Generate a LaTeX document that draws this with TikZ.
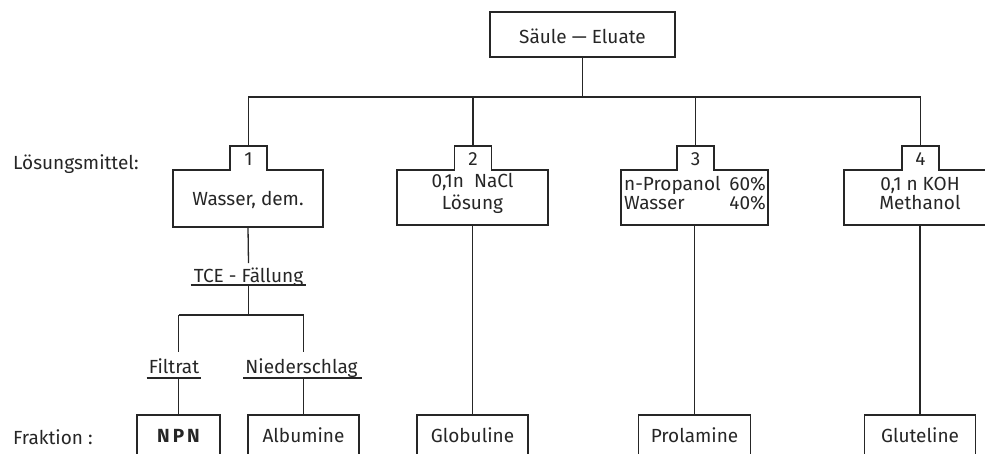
\documentclass[tikz,border=0pt]{standalone}
\usepackage{fontspec}
\setmainfont{Fira Sans}
\usetikzlibrary{calc}
\begin{document}
\begin{tikzpicture}[x=1pt,y=-1pt,
  ln/.style={line width=1.3pt, draw=black!85},
  txt/.style={font=\fontsize{19}{22}\selectfont, text=black!85, inner sep=0pt},
  frame/.style={draw=none, inner sep=0pt, outer sep=0pt},
  tabbox/.style={frame, minimum width=37pt, minimum height=24pt},
  fbox/.style={ln, inner sep=0pt, outer sep=0pt, minimum height=45pt,
    text height=14pt, text depth=4pt, font=\fontsize{19}{22}\selectfont, text=black!85},
]
\useasboundingbox (0,0) rectangle (985,453);
\clip (0,0) rectangle (985,453);

% top box
\node[ln, minimum width=185pt, minimum height=45pt, inner sep=0pt, outer sep=0pt] (top) at (582.5,34.5) {};
\node[txt, anchor=base] (toptxt) at (582.5,43) {Säule — Eluate};

% side labels
\node[txt, anchor=base west] (lm) at (13,169) {Lösungsmittel:};
\node[txt, anchor=base west] (fr) at (13,444) {Fraktion :};

% solvent boxes
\node[frame, minimum width=150pt, minimum height=57pt] (b1) at (248,198.5) {};
\node[tabbox] (t1) at (248.5,158) {};
\node[frame, minimum width=151pt, minimum height=55pt] (b2) at (472.5,197.5) {};
\node[tabbox] (t2) at (473,158) {};
\node[frame, minimum width=147pt, minimum height=55pt] (b3) at (694.5,197.5) {};
\node[tabbox] (t3) at (695.5,158) {};
\node[frame, minimum width=152pt, minimum height=55pt] (b4) at (920,197.5) {};
\node[tabbox] (t4) at (920.5,158) {};

\foreach \b/\t in {b1/t1,b2/t2,b3/t3,b4/t4}{
  \draw[ln] (\b.north west) -- (\t.south west) -- (\t.north west) -- (\t.north east)
    -- (\t.south east) -- (\b.north east) -- (\b.south east) -- (\b.south west) -- cycle;
}

% tab numbers
\node[txt, anchor=base] (n1) at (248.5,165) {1};
\node[txt, anchor=base] (n2) at (473,165) {2};
\node[txt, anchor=base] (n3) at (695.5,165) {3};
\node[txt, anchor=base] (n4) at (920.5,165) {4};

% box texts
\node[txt, anchor=base] (b1t) at (248,205) {Wasser, dem.};
\node[txt, anchor=base] (b2t1) at (472.5,187) {0,1n\ \ NaCl};
\node[txt, anchor=base] (b2t2) at (472.5,209) {Lösung};
\node[txt, anchor=base west] (b3t1) at (624,190) {n-Propanol};
\node[txt, anchor=base east] (b3p1) at (766,190) {60\%};
\node[txt, anchor=base west] (b3t2) at (624,209) {Wasser};
\node[txt, anchor=base east] (b3p2) at (766,209) {40\%};
\node[txt, anchor=base] (b4t1) at (920,190) {0,1 n KOH};
\node[txt, anchor=base] (b4t2) at (920,209) {Methanol};

% bus
\coordinate (j) at (582.5,97);
\draw[ln] (top.south) -- (j);
\draw[ln] (t1.north) -- (t1.north |- j) -- (t4.north |- j) -- (t4.north);
\draw[ln] (t2.north) -- (t2.north |- j);
\draw[ln] (t3.north) -- (t3.north |- j);

% fraction boxes
\node[fbox, minimum width=83pt] (npn) at (178.5,437.5) {\bfseries N\hspace{3pt}P\hspace{3pt}N};
\node[fbox, minimum width=111pt] (alb) at (303.5,437.5) {Albumine};
\node[fbox, minimum width=111pt] (glob) at (472.5,437.5) {Globuline};
\node[fbox, minimum width=112pt] (prol) at (694.5,437.5) {Prolamine};
\node[fbox, minimum width=111pt] (glut) at (920,437.5) {Gluteline};

% TCE branch
\node[txt, anchor=base] (tce) at (248.5,282) {TCE - Fällung};
\draw[ln] ($(tce.base west)+(-3,3)$) -- ($(tce.base east)+(3,3)$);
\draw[ln] (b1.south) -- ($(tce.north)+(0,-4)$);
\coordinate (sp) at (248.5,315);
\draw[ln] ($(tce.base)+(0,3)$) -- (sp);
\draw[ln] (sp -| npn.north) -- (sp -| alb.north);

\node[txt, anchor=base] (fil) at (174,373) {Filtrat};
\node[txt, anchor=base] (nie) at (301.5,373) {Niederschlag};
\draw[ln] ($(fil.base west)+(-2,5)$) -- ($(fil.base east)+(2,5)$);
\draw[ln] ($(nie.base west)+(-2,5)$) -- ($(nie.base east)+(4,5)$);
\draw[ln] (sp -| npn.north) -- (npn.north |- 0,352);
\draw[ln] (sp -| alb.north) -- (alb.north |- 0,352);
\draw[ln] (npn.north |- 0,378) -- (npn.north);
\draw[ln] (alb.north |- 0,378) -- (alb.north);

% long stems
\draw[ln] (b2.south) -- (b2.south |- glob.north);
\draw[ln] (b3.south) -- (b3.south |- prol.north);
\draw[ln] (b4.south) -- (b4.south |- glut.north);
\end{tikzpicture}
\end{document}
